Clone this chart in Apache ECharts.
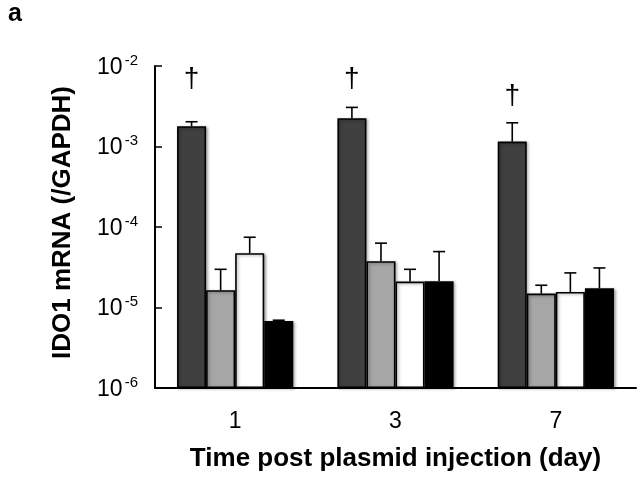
<!DOCTYPE html>
<html>
<head>
<meta charset="utf-8">
<script src="https://cdn.jsdelivr.net/npm/echarts@6/dist/echarts.min.js"></script>
<style>
  html, body { margin: 0; padding: 0; background: #fff; }
  #chart { width: 641px; height: 481px; }
</style>
</head>
<body>
<div id="chart"></div>
<script>
var mychart = echarts.init(document.getElementById('chart'));

// days post injection
const days = ['1', '3', '7'];
const groupNames = ['Group 1', 'Group 2', 'Group 3', 'Group 4'];
const groupColors = ['#404040', '#a6a6a6', '#ffffff', '#000000'];

// mean values
const meanDark  = [1.79e-3, 2.25e-3, 1.15e-3];
const meanGrey  = [1.64e-5, 3.76e-5, 1.49e-5];
const meanWhite = [4.72e-5, 2.10e-5, 1.56e-5];
const meanBlack = [6.8e-6, 2.12e-5, 1.73e-5];

// top of error bars
const upDark  = [2.03e-3, 3.06e-3, 1.97e-3];
const upGrey  = [2.98e-5, 6.3e-5, 1.89e-5];
const upWhite = [7.46e-5, 2.98e-5, 2.69e-5];
const upBlack = [6.95e-6, 4.95e-5, 3.1e-5];

// dagger marks (value where the mark sits)
const daggerAt = [6.9e-3, 6.9e-3, 4.2e-3];

const means = [meanDark, meanGrey, meanWhite, meanBlack];
const ups = [upDark, upGrey, upWhite, upBlack];

const catGap = 0.275;

var errData = [];
means.forEach(function (m, s) {
    m.forEach(function (v, i) {
        errData.push([i, s, v, ups[s][i]]);
    });
});

var barSeries = means.map(function (m, s) {
    return {
        name: groupNames[s],
        type: 'bar',
        data: m,
        barGap: '0%',
        barCategoryGap: (catGap * 100) + '%',
        itemStyle: {
            color: groupColors[s],
            borderColor: '#000',
            borderWidth: 1.6,
            shadowColor: 'rgba(0,0,0,0.35)',
            shadowBlur: 3,
            shadowOffsetX: 1.5,
            shadowOffsetY: 1
        },
        animation: false
    };
});

function barX(api, cat, s) {
    var c0 = api.coord([0, 1e-4])[0];
    var c1 = api.coord([1, 1e-4])[0];
    var band = c1 - c0;
    var w = band * (1 - catGap) / 4;
    return api.coord([cat, 1e-4])[0] + (s - 1.5) * w;
}

option = {
    backgroundColor: '#fff',
    animation: false,
    grid: {
        left: 155,
        top: 66,
        right: 5,
        bottom: 93
    },
    graphic: [{
        type: 'text',
        left: 8,
        top: 2,
        style: {
            text: 'a',
            font: 'bold 25px "Liberation Sans"',
            fill: '#000'
        }
    }],
    xAxis: {
        type: 'category',
        data: days,
        name: 'Time post plasmid injection (day)',
        nameLocation: 'middle',
        nameGap: 58,
        nameTextStyle: {
            fontFamily: 'Liberation Sans',
            fontWeight: 'bold',
            fontSize: 26,
            color: '#000'
        },
        axisLine: { lineStyle: { color: '#000', width: 2 } },
        axisTick: { inside: true, length: 7, lineStyle: { color: '#000', width: 1.5 } },
        axisLabel: {
            margin: 22,
            fontFamily: 'Liberation Sans',
            fontSize: 23,
            color: '#000'
        }
    },
    yAxis: {
        type: 'log',
        logBase: 10,
        min: 1e-6,
        max: 1e-2,
        startValue: 1e-6,
        name: 'IDO1 mRNA (/GAPDH)',
        nameLocation: 'middle',
        nameGap: 79,
        nameTextStyle: {
            fontFamily: 'Liberation Sans',
            fontWeight: 'bold',
            fontSize: 26,
            color: '#000',
            padding: [0, 0, 0, 9]
        },
        splitLine: { show: false },
        axisLine: { show: true, lineStyle: { color: '#000', width: 2 } },
        axisTick: { show: true, inside: true, length: 7, lineStyle: { color: '#000', width: 1.5 } },
        axisLabel: {
            margin: 17,
            color: '#000',
            formatter: function (v) {
                var e = Math.round(Math.log10(v));
                return '{a|10}{b|' + e + '}';
            },
            rich: {
                a: { fontFamily: 'Liberation Sans', fontSize: 23, lineHeight: 26, color: '#000', verticalAlign: 'bottom' },
                b: { fontFamily: 'Liberation Sans', fontSize: 15, lineHeight: 26, color: '#000', verticalAlign: 'top', padding: [0, 0, 0, 2] }
            }
        }
    },
    series: barSeries.concat([
        {
            type: 'custom',
            name: 'error',
            data: errData,
            animation: false,
            z: 3,
            renderItem: function (params, api) {
                var cat = api.value(0);
                var s = api.value(1);
                var x = barX(api, cat, s);
                var yLo = api.coord([cat, api.value(2)])[1];
                var yHi = api.coord([cat, api.value(3)])[1];
                var st = { stroke: '#000', lineWidth: 1.6 };
                return {
                    type: 'group',
                    children: [
                        { type: 'line', shape: { x1: x, y1: yLo, x2: x, y2: yHi }, style: st },
                        { type: 'line', shape: { x1: x - 6, y1: yHi, x2: x + 6, y2: yHi }, style: st }
                    ]
                };
            }
        },
        {
            type: 'custom',
            name: 'dagger',
            data: daggerAt.map(function (v, i) { return [i, v]; }),
            animation: false,
            z: 3,
            renderItem: function (params, api) {
                var cat = api.value(0);
                var x = barX(api, cat, 0);
                var y = api.coord([cat, api.value(1)])[1];
                return {
                    type: 'text',
                    style: {
                        text: '†',
                        x: x,
                        y: y,
                        font: '28px "Liberation Sans"',
                        fill: '#000',
                        align: 'center',
                        verticalAlign: 'middle'
                    }
                };
            }
        }
    ])
};
mychart.setOption(option, true);
</script>
</body>
</html>
